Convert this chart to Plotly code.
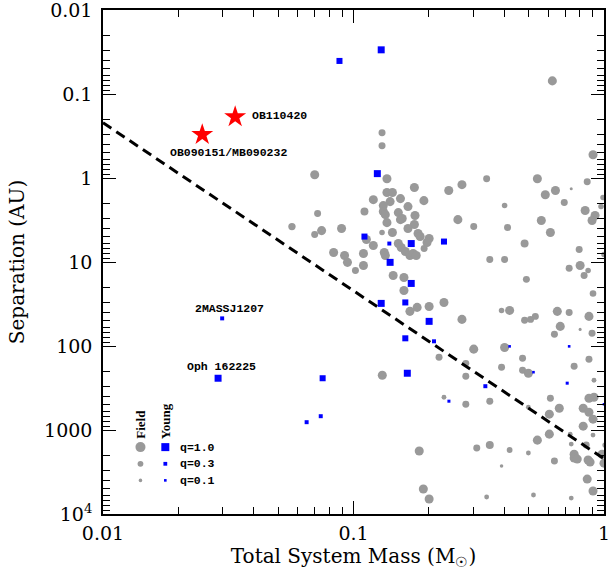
import math
import plotly.graph_objects as go

# field binaries (grey circles): total mass [Msun], separation [AU], mass ratio q
field_mass = [0.622, 0.130, 0.130, 0.904, 0.070, 0.136, 0.340, 0.542, 0.857, 0.175,
              0.271, 0.240, 0.583, 0.640, 0.740, 0.136, 0.143, 0.120, 0.154, 0.191,
              0.694, 0.991, 0.973, 0.401, 0.841, 0.921, 0.896, 0.261, 0.302, 0.412,
              0.562, 0.611, 0.482, 0.796, 0.350, 0.401, 0.803, 0.726, 0.864, 0.833,
              0.490, 1.000, 0.140, 0.1315, 0.165, 0.1315, 0.134, 0.1106, 0.151, 0.176,
              0.0719, 0.154, 0.1565, 0.136, 0.175, 0.165, 0.0568, 0.0746, 0.070, 0.0896,
              0.130, 0.143, 0.181, 0.1845, 0.2004, 0.1966, 0.1126, 0.120, 0.151, 0.155,
              0.1914, 0.161, 0.168, 0.173, 0.178, 0.1327, 0.134, 0.0833, 0.0921, 0.1096,
              0.0946, 0.1096, 0.1018, 0.144, 0.159, 0.159, 0.2297, 0.2004, 0.1795, 0.168,
              0.271, 0.390, 0.420, 0.482, 0.509, 0.532, 0.651, 0.726, 0.871, 0.904,
              0.669, 0.634, 0.803, 0.896, 0.302, 0.401, 0.2195, 0.2808, 0.2808, 0.390,
              0.473, 0.473, 0.499, 0.760, 0.871, 0.912, 0.1303, 0.2297, 0.2808, 0.350,
              0.611, 0.912, 0.871, 0.499, 0.663, 0.605, 0.826, 0.871, 0.904, 0.826,
              0.733, 0.904, 0.605, 0.542, 0.740, 0.849, 0.183, 0.3105, 0.350, 0.420,
              0.499, 0.634, 0.760, 0.760, 0.782, 0.864, 0.880, 0.982, 1.000, 0.390,
              0.857, 0.904, 0.190, 0.2004, 0.340, 0.523, 0.740, 1.010]
field_sep = [0.0698, 0.289, 0.413, 0.529, 0.913, 1.02, 1.02, 1.02, 1.11, 1.30,
             1.20, 1.41, 1.58, 1.41, 1.34, 1.49, 1.49, 1.81, 1.76, 1.86,
             1.96, 1.71, 2.19, 2.13, 2.44, 2.80, 3.21, 3.13, 3.79, 3.89,
             3.21, 4.46, 6.03, 7.10, 9.34, 9.34, 11.0, 11.9, 12.6, 14.5,
             16.1, 8.15, 1.91, 2.13, 2.19, 2.51, 2.73, 2.51, 2.58, 2.80,
             2.65, 3.13, 3.04, 3.40, 3.58, 4.00, 3.79, 4.23, 4.71, 4.00,
             4.46, 4.46, 4.58, 4.98, 5.26, 5.87, 5.40, 6.37, 6.03, 6.73,
             6.91, 7.50, 8.37, 7.93, 8.37, 7.72, 8.37, 7.72, 8.37, 7.93,
             10.1, 11.0, 12.6, 14.5, 15.3, 21.8, 30.3, 33.8, 34.7, 38.7,
             48.2, 37.7, 37.7, 49.5, 48.2, 44.4, 38.7, 39.8, 44.4, 23.7,
             58.4, 72.6, 63.4, 70.7, 109, 104, 136, 161, 229, 179,
             140, 194, 211, 174, 144, 256, 223, 407, 493, 454,
             418, 407, 418, 535, 550, 648, 550, 614, 743, 900,
             1120, 1150, 1120, 1320, 1470, 1510, 1780, 1640, 1510, 1730,
             1880, 2340, 1940, 2160, 2220, 2280, 2410, 1940, 2480, 2690,
             3840, 5330, 5040, 6640, 6280, 5940, 6460, 1510]
field_q = [0.8, 0.45, 0.45, 0.8, 0.8, 0.8, 0.45, 0.8, 0.45, 0.8,
           0.8, 0.8, 0.8, 0.8, 0.07, 0.8, 0.8, 0.8, 0.8, 0.8,
           0.45, 0.27, 0.27, 0.27, 0.8, 0.8, 0.8, 0.8, 0.45, 0.45,
           0.8, 0.8, 0.6, 0.45, 0.45, 0.45, 0.8, 0.45, 0.27, 0.45,
           0.45, 0.27, 0.8, 0.8, 0.8, 0.8, 0.8, 0.6, 0.8, 0.8,
           0.45, 0.8, 0.8, 0.8, 0.8, 0.8, 0.5, 0.8, 0.45, 0.8,
           0.27, 0.8, 0.8, 0.8, 0.8, 0.8, 0.8, 0.8, 0.8, 0.8,
           0.45, 0.8, 0.8, 0.8, 0.8, 0.8, 0.8, 0.8, 0.8, 0.8,
           0.8, 0.8, 0.45, 0.8, 0.8, 0.8, 0.8, 0.8, 0.8, 0.8,
           0.8, 0.27, 0.8, 0.45, 0.45, 0.45, 0.8, 0.45, 0.8, 0.4,
           0.8, 0.45, 0.07, 0.45, 0.8, 0.8, 0.45, 0.45, 0.45, 0.45,
           0.45, 0.45, 0.8, 0.45, 0.45, 0.2, 0.8, 0.2, 0.45, 0.45,
           0.45, 0.8, 0.8, 0.2, 0.8, 0.8, 0.8, 0.8, 0.8, 0.8,
           0.2, 0.2, 0.8, 0.8, 0.2, 0.45, 0.8, 0.45, 0.6, 0.3,
           0.2, 0.45, 0.8, 0.8, 0.8, 0.8, 0.8, 0.8, 0.8, 0.1,
           0.8, 0.8, 0.8, 0.8, 0.2, 0.2, 0.2, 0.27]

# young binaries (blue squares)
young_mass = [0.129, 0.0879, 0.1245, 0.1106, 0.139, 0.170, 0.2297, 0.140, 0.170, 0.129,
              0.161, 0.2004, 0.161, 0.2096, 0.0753, 0.164, 0.0299, 0.0288, 0.065, 0.074,
              0.420, 0.726, 0.523, 0.713, 0.336, 0.2404, 1.0]
young_sep = [0.0298, 0.0404, 0.887, 4.98, 6.03, 6.03, 5.71, 10.1, 18.0, 31.1,
             30.3, 50.9, 81.0, 87.9, 242, 211, 46.9, 242, 807, 685,
             101, 101, 205, 277, 301, 454, 493]
young_q = [0.83, 0.67, 0.83, 0.67, 0.33, 0.83, 0.67, 0.83, 0.83, 0.83,
           0.67, 0.83, 0.67, 0.33, 0.67, 0.83, 0.33, 0.83, 0.33, 0.33,
           0.1, 0.1, 0.1, 0.17, 0.33, 0.17, 0.1]

# microlensing binaries (red stars)
lens_mass = [0.0249, 0.0337]
lens_sep = [0.305, 0.187]
lens_name = ['OB090151/MB090232', 'OB110420']

# named young objects (index into young arrays)
named_young = {'2MASSJ1207': 16, 'Oph 162225': 17}

# dashed limit
line_mass = [0.01, 1.0]
line_sep = [0.22, 2200]

legend_q = [1.0, 0.3, 0.1]
legend_label = ['q=1.0', 'q=0.3', 'q=0.1']


def field_size(q):
    return 10 * q ** 0.45


def young_size(q):
    return 2 + 6 * q


GREY = 'rgb(153,153,153)'
BLUE = 'rgb(0,0,255)'
serif = 'DejaVu Serif'
mono = 'Liberation Mono'

fig = go.Figure()
fig.add_trace(go.Scatter(x=field_mass, y=field_sep, mode='markers',
                         marker=dict(symbol='circle', color=GREY, opacity=1,
                                     size=[field_size(q) for q in field_q],
                                     line=dict(width=0))))
fig.add_trace(go.Scatter(x=line_mass, y=line_sep, mode='lines',
                         line=dict(color='black', width=3, dash='10px,6px')))
fig.add_trace(go.Scatter(x=young_mass, y=young_sep, mode='markers',
                         marker=dict(symbol='square', color=BLUE, opacity=1,
                                     size=[young_size(q) for q in young_q],
                                     line=dict(width=0))))
fig.add_trace(go.Scatter(x=lens_mass, y=lens_sep, mode='markers',
                         marker=dict(symbol='star', color='red', size=16.5, opacity=1,
                                     line=dict(width=0))))

# legend drawn in plot-fraction coordinates
leg_y = [0.1327, 0.0996, 0.0667]
fig.add_trace(go.Scatter(x=[0.0748] * 3, y=leg_y, mode='markers', xaxis='x2', yaxis='y2',
                         marker=dict(symbol='circle', color=GREY, opacity=1,
                                     size=[field_size(q) for q in legend_q], line=dict(width=0))))
fig.add_trace(go.Scatter(x=[0.1244] * 3, y=leg_y, mode='markers', xaxis='x2', yaxis='y2',
                         marker=dict(symbol='square', color=BLUE, opacity=1,
                                     size=[young_size(q) for q in legend_q], line=dict(width=0))))

ann = []
lab_font = dict(family=mono, size=11.5, color='black')
L = math.log10
ann.append(dict(x=L(lens_mass[1]), y=L(lens_sep[1]), text='<b>%s</b>' % lens_name[1], showarrow=False,
                xanchor='left', yanchor='middle', xshift=15, yshift=1, font=lab_font))
ann.append(dict(x=L(lens_mass[0]), y=L(lens_sep[0]), text='<b>%s</b>' % lens_name[0], showarrow=False,
                xanchor='left', yanchor='middle', xshift=-34, yshift=-18, font=lab_font))
shifts = {'2MASSJ1207': (-29, 10), 'Oph 162225': (-33, 12)}
for name, i in named_young.items():
    ann.append(dict(x=L(young_mass[i]), y=L(young_sep[i]), text='<b>%s</b>' % name, showarrow=False,
                    xanchor='left', yanchor='middle', xshift=shifts[name][0], yshift=shifts[name][1],
                    font=lab_font))
for yy, lab in zip(leg_y, legend_label):
    ann.append(dict(x=0.1488, y=yy, xref='paper', yref='paper', text='<b>%s</b>' % lab,
                    showarrow=False, xanchor='left', yanchor='middle', font=lab_font))
ann.append(dict(x=0.0748, y=0.178, xref='paper', yref='paper', text='<b>Field</b>', textangle=-90,
                xanchor='center', yanchor='middle', showarrow=False,
                font=dict(family='Liberation Serif', size=13, color='black')))
ann.append(dict(x=0.1236, y=0.184, xref='paper', yref='paper', text='<b>Young</b>', textangle=-90,
                xanchor='center', yanchor='middle', showarrow=False,
                font=dict(family='Liberation Serif', size=13, color='black')))

minor_x = [k * 10 ** e for e in (-2, -1) for k in range(2, 10)]
minor_y = [k * 10 ** e for e in range(-2, 4) for k in range(2, 10)]

axis_common = dict(type='log', showline=True, linecolor='black', linewidth=1.5, mirror='allticks',
                   ticks='inside', ticklen=13, tickwidth=1.2, tickcolor='black',
                   showgrid=False, zeroline=False, ticklabeloverflow='allow', automargin=False,
                   tickfont=dict(family=serif, size=19, color='black'))

fig.update_layout(
    width=610, height=577,
    margin=dict(l=103, r=6, t=10, b=63),
    paper_bgcolor='white', plot_bgcolor='white',
    showlegend=False,
    annotations=ann,
    xaxis=dict(range=[-2, 0], tickvals=[0.01, 0.1, 1], ticktext=['0.01', '0.1', '1'],
               minor=dict(ticks='inside', ticklen=7, tickwidth=1.2, tickcolor='black', tickvals=minor_x),
               title=dict(text='Total System Mass (M<sub>☉</sub>)', standoff=6,
                          font=dict(family=serif, size=20, color='black')),
               ticklabelstandoff=1, **axis_common),
    yaxis=dict(range=[4, -2], tickvals=[0.01, 0.1, 1, 10, 100, 1000, 10000],
               ticktext=['0.01', '0.1', '1', '10', '100', '1000', '10<sup>4</sup>'],
               minor=dict(ticks='inside', ticklen=7, tickwidth=1.2, tickcolor='black', tickvals=minor_y),
               title=dict(text='Separation (AU)', standoff=14,
                          font=dict(family=serif, size=20, color='black')),
               ticklabelstandoff=5, **axis_common),
    xaxis2=dict(overlaying='x', range=[0, 1], visible=False),
    yaxis2=dict(overlaying='y', range=[0, 1], visible=False),
)

fig.write_html("out.html", config={'displayModeBar': False},
               post_script="document.body.style.margin='0px';")
